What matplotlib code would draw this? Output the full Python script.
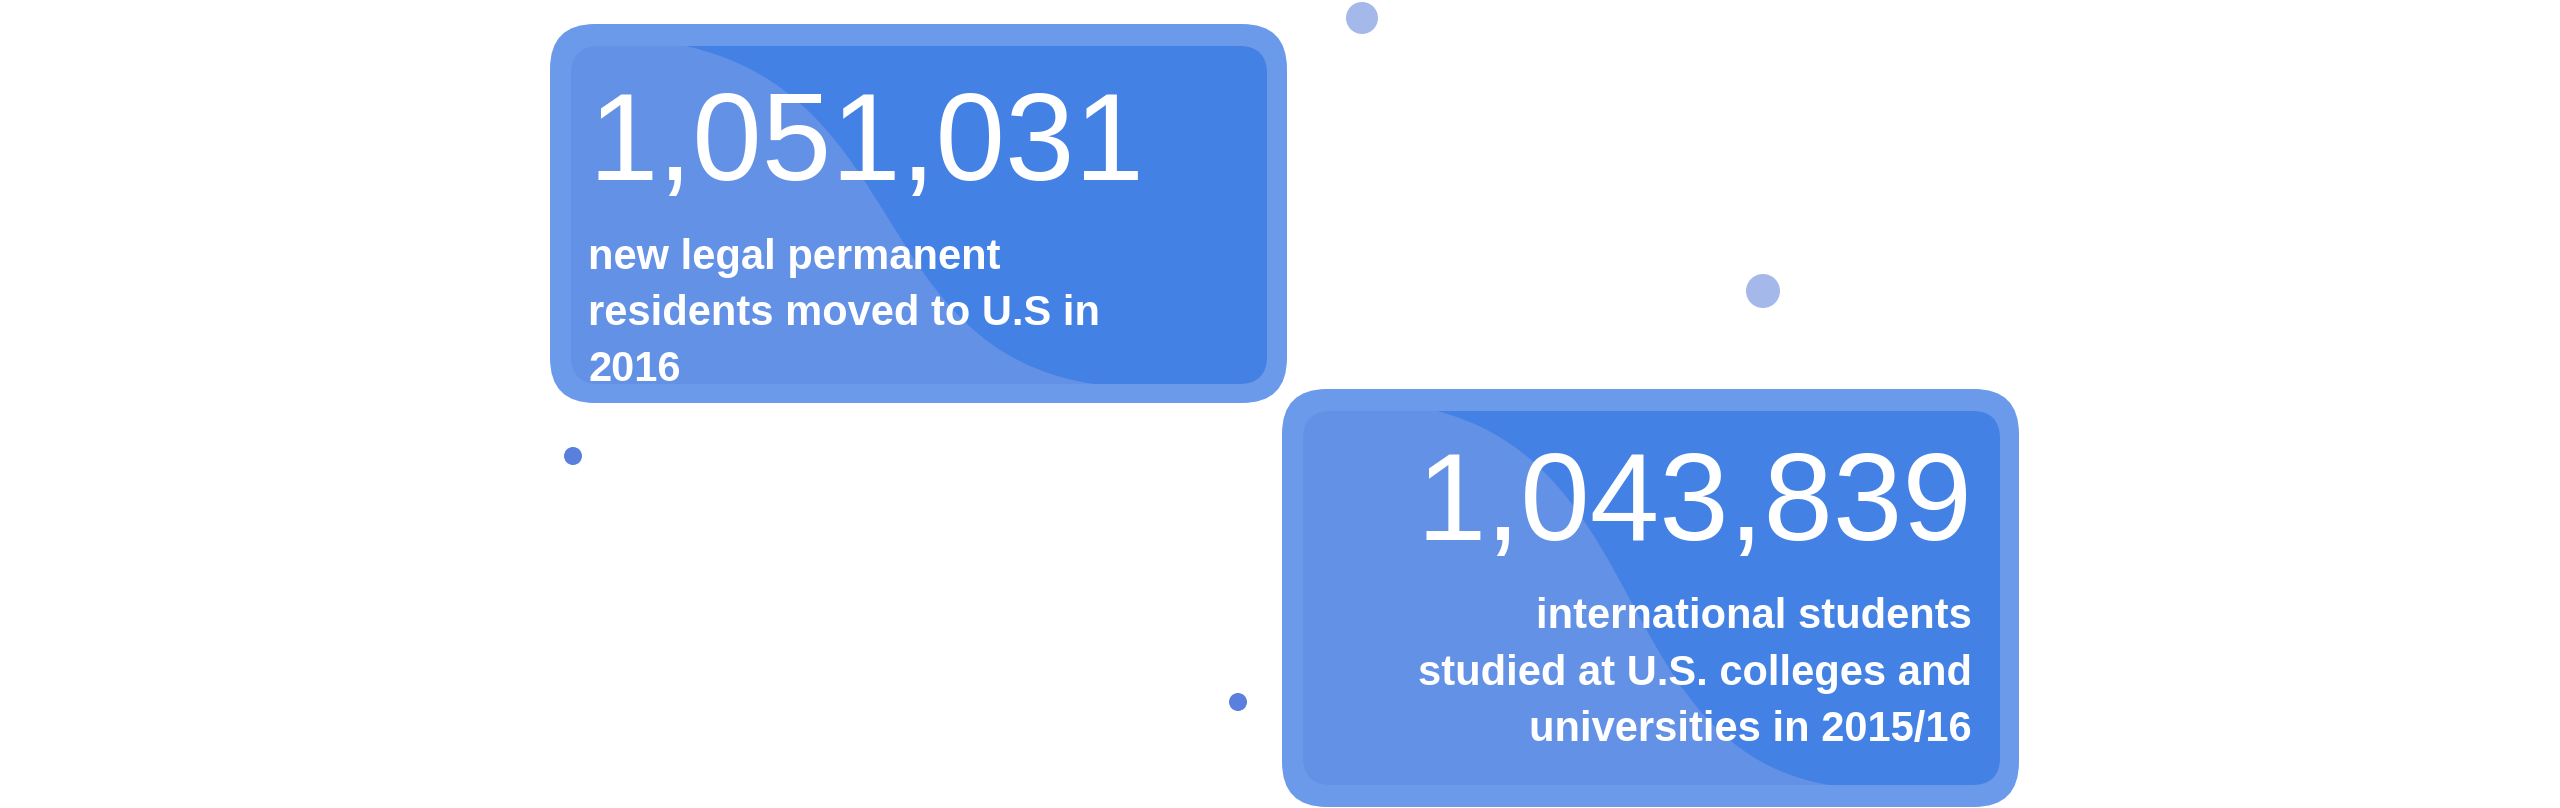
import matplotlib
matplotlib.use("Agg")
import matplotlib.pyplot as plt
from matplotlib.patches import FancyBboxPatch, Circle, PathPatch
from matplotlib.path import Path

numbers = ["1,051,031", "1,043,839"]
captions = [["new legal permanent", "residents moved to U.S in", "2016"],
            ["international students", "studied at U.S. colleges and", "universities in 2015/16"]]

OUTER = "#6a9ae9"; LIGHT = "#6391e6"; DARK = "#4481e4"
fig = plt.figure(figsize=(25.6, 8.08), dpi=100)
ax = fig.add_axes([0, 0, 1, 1])
ax.set_xlim(0, 2560); ax.set_ylim(808, 0); ax.axis("off")

cards = [dict(outer=(550, 24, 737, 379), inner=(571, 46, 696, 338), curve=(686, 1094), align="left"),
         dict(outer=(1282, 389, 737, 418), inner=(1303, 411, 697, 374), curve=(1437, 1829), align="right")]

for i, c in enumerate(cards):
    x, y, w, h = c["outer"]
    ax.add_patch(FancyBboxPatch((x + 40, y + 40), w - 80, h - 80, boxstyle="round,pad=40,rounding_size=45",
                                fc=OUTER, ec="none"))
    ix, iy, iw, ih = c["inner"]
    inner = FancyBboxPatch((ix + 25, iy + 25), iw - 50, ih - 50, boxstyle="round,pad=25,rounding_size=28",
                           fc=LIGHT, ec="none")
    ax.add_patch(inner)
    x0, x1 = c["curve"]
    verts = [(x0, iy), (x0 + 0.55 * (x1 - x0), iy + 0.15 * ih), (x0 + 0.45 * (x1 - x0), iy + 0.9 * ih),
             (x1, iy + ih), (ix + iw + 10, iy + ih), (ix + iw + 10, iy), (x0, iy)]
    codes = [Path.MOVETO, Path.CURVE4, Path.CURVE4, Path.CURVE4, Path.LINETO, Path.LINETO, Path.CLOSEPOLY]
    dark = PathPatch(Path(verts, codes), fc=DARK, ec="none")
    ax.add_patch(dark)
    dark.set_clip_path(inner)

    if c["align"] == "left":
        tx = 588; ha = "left"; ny = 180; ly = [269, 325, 381]
    else:
        tx = 1972; ha = "right"; ny = 540; ly = [628, 685, 741]
    ax.text(tx, ny, numbers[i], ha=ha, va="baseline", color="white", fontsize=90,
            family="Liberation Sans", fontweight="bold" if False else "normal")
    for j, line in enumerate(captions[i]):
        t = ax.text(tx, ly[j], line, ha=ha, va="baseline", color="white", fontsize=30,
                    family="Liberation Sans", fontweight="bold")
        if i == 0:
            clip = FancyBboxPatch((ix, iy), iw, 350 - iy, boxstyle="square,pad=0", transform=ax.transData)
            t.set_clip_path(clip)

for (cx, cy, r, col) in [(1362, 18, 16, "#a5b8ea"), (1763, 291, 17, "#a5b8ea"),
                         (573, 456, 9, "#5a7fdc"), (1238, 702, 9, "#5a7fdc")]:
    ax.add_patch(Circle((cx, cy), r, fc=col, ec="none"))

fig.savefig("out.png", dpi=100)
